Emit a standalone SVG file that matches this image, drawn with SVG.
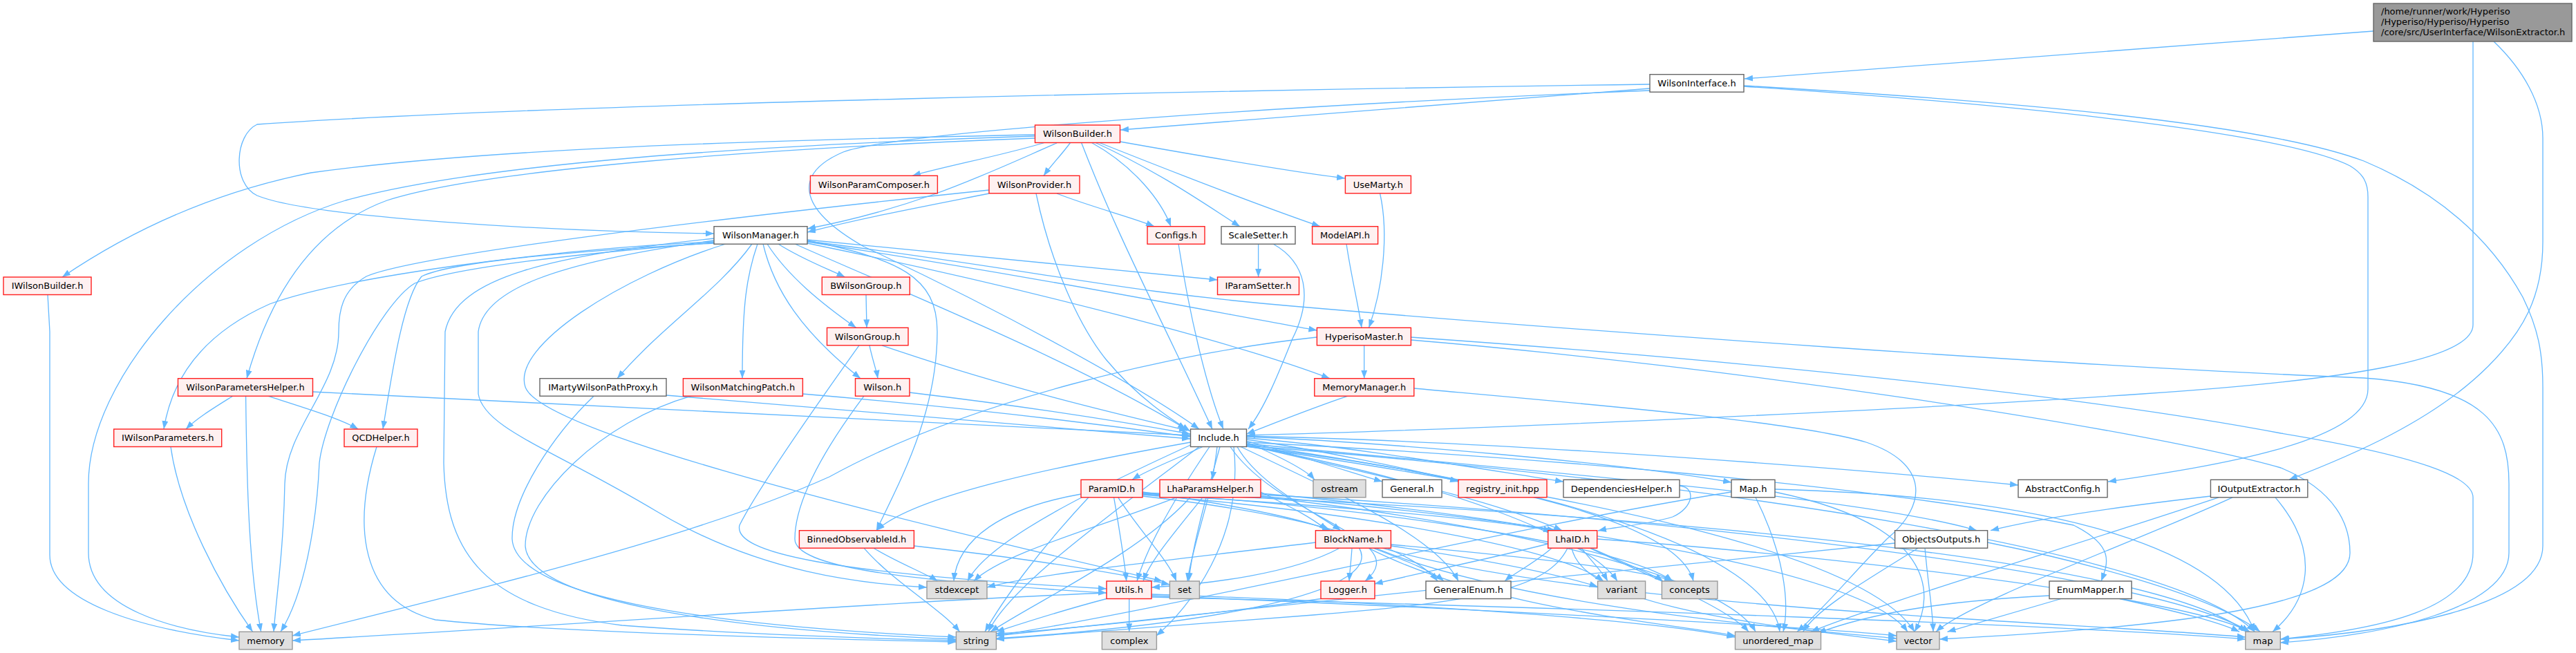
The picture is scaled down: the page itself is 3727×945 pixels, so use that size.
<svg xmlns="http://www.w3.org/2000/svg" width="3727" height="945" viewBox="0 0 3727 945">
<style>
.e{fill:none;stroke:#63b8ff;stroke-width:1.3;marker-end:url(#ah)}
.r{fill:#fff0f0;stroke:#ff2020;stroke-width:1.4}
.w{fill:#ffffff;stroke:#666666;stroke-width:1.4}
.s{fill:#e0e0e0;stroke:#999999;stroke-width:1.4}
.m{fill:#999999;stroke:#666666;stroke-width:1.4}
text{font-family:"DejaVu Sans","Liberation Sans",sans-serif;font-size:13px;fill:#000}
.c{text-anchor:middle}
</style>
<defs>
<marker id="ah" markerWidth="12" markerHeight="9" refX="12" refY="4.5" orient="auto" markerUnits="userSpaceOnUse">
<path d="M0,0 L12,4.5 L0,9 z" fill="#63b8ff"/>
</marker>
</defs>
<rect width="3727" height="945" fill="#ffffff"/>
<g id="edges">
<path class="e" d="M3434,45 C3100,70 2800,95 2524,114"/>
<path class="e" d="M3578,60 L3578,470 C3578,520 3400,550 3100,570 C2700,597 2100,622 1804,630"/>
<path class="e" d="M3608,60 C3650,100 3679,150 3679,200 L3679,350 C3679,430 3650,480 3600,530 C3520,610 3400,660 3312,694"/>
<path class="e" d="M2387,128 C2100,150 1800,175 1621,188"/>
<path class="e" d="M2387,122 C1800,130 800,150 372,180 C340,195 335,265 372,283 C450,315 800,335 1033,338"/>
<path class="e" d="M2387,131 C1900,150 1300,190 1220,220 C1150,250 1150,300 1250,357 C1450,450 1650,560 1735,621"/>
<path class="e" d="M2523,125 C2900,150 3300,190 3400,240 C3420,252 3426,265 3426,285 L3426,563 C3426,640 3200,675 3050,697"/>
<path class="e" d="M2523,124 C2800,140 3250,170 3420,233 C3520,275 3600,340 3650,430 C3672,475 3679,510 3679,560 L3679,790 C3679,880 3450,915 3300,925"/>
<path class="e" d="M1497,195 C1100,203 700,215 450,250 C300,280 180,340 90,401"/>
<path class="e" d="M1511,206.5 C1450,225 1370,240 1320,254.3"/>
<path class="e" d="M1548.6,206.5 C1535,225 1520,240 1510,254.3"/>
<path class="e" d="M1529,207 C1430,250 1330,300 1168,331"/>
<path class="e" d="M1579.5,206.5 C1640,240 1680,290 1694,327.7"/>
<path class="e" d="M1585,206.5 C1680,250 1750,300 1794,327.7"/>
<path class="e" d="M1590.7,206.5 C1700,250 1830,300 1910,327.7"/>
<path class="e" d="M1620.5,205 C1750,228 1880,250 1946,258"/>
<path class="e" d="M1497,200 C1100,215 700,245 560,290 C450,330 390,430 357,547.7"/>
<path class="e" d="M1564.6,206.5 C1620,350 1680,460 1754,621"/>
<path class="e" d="M1497,197 C1100,210 700,235 500,290 C300,350 128,550 128,700 L128,800 C128,880 250,912 346,922"/>
<path class="e" d="M1431,280 C1330,300 1250,315 1168,336"/>
<path class="e" d="M1529,280 C1580,300 1640,315 1670,327.7"/>
<path class="e" d="M1499,280 C1520,380 1560,470 1600,520 C1650,580 1700,610 1722,624"/>
<path class="e" d="M1431,275 C1000,320 600,370 530,400 C495,420 490,450 490,480 C490,560 414,620 412,700 C410,800 400,860 396,914.3"/>
<path class="e" d="M1996.6,280 C2010,340 2000,420 1980.5,474.3"/>
<path class="e" d="M1948,353 C1955,400 1965,440 1970,474.3"/>
<path class="e" d="M1820.6,353 L1820.6,401"/>
<path class="e" d="M1842,353 C1890,380 1900,430 1870,490 C1850,540 1830,590 1806,621"/>
<path class="e" d="M1705,353 C1720,450 1745,560 1770,621"/>
<path class="e" d="M1126,353 C1160,375 1200,390 1222.6,401"/>
<path class="e" d="M1110,353 C1140,400 1190,440 1238.7,474.3"/>
<path class="e" d="M1096,353 C1080,400 1074,440 1074,547.7"/>
<path class="e" d="M1104,353 C1120,420 1160,480 1245,547.7"/>
<path class="e" d="M1088,353 C1040,420 960,470 893,547.7"/>
<path class="e" d="M1050,353 C900,400 740,500 760,560 C780,620 1200,730 1682,841"/>
<path class="e" d="M1033,345 C800,370 660,400 644,480 L642,670 C645,800 700,880 900,905 C1100,920 1300,925 1383.4,927"/>
<path class="e" d="M1033,348 C800,380 700,420 692,480 L692,570 C700,620 800,650 950,740 C1100,830 1250,845 1341,850"/>
<path class="e" d="M1033,350 C800,360 500,400 390,440 C300,480 250,540 237,621"/>
<path class="e" d="M1033,351 C800,370 650,390 600,410 C550,440 470,600 462,670 C458,760 440,860 406,914.3"/>
<path class="e" d="M1033,352 C800,365 650,380 610,400 C585,430 570,520 554,621"/>
<path class="e" d="M1168,347 C1400,370 1600,390 1761.5,405"/>
<path class="e" d="M1168,349 C1500,390 1600,420 1870,443 C2300,480 3000,530 3420,547 C3600,560 3630,620 3630,700 L3630,800 C3630,880 3450,920 3299,930"/>
<path class="e" d="M1168,350 C1500,400 1800,460 1905.4,478"/>
<path class="e" d="M1168,352 C1500,420 1800,500 1924,547.7"/>
<path class="e" d="M1150,353 C1300,420 1550,520 1716,621"/>
<path class="e" d="M1168,348 C1300,375 1356,400 1356,480 C1356,600 1300,700 1268,767.7"/>
<path class="e" d="M1253,426.5 L1254,474.3"/>
<path class="e" d="M1258,499.8 C1262,520 1268,535 1270,547.7"/>
<path class="e" d="M1276,499.8 C1450,560 1620,600 1718,623"/>
<path class="e" d="M1243,499.8 C1200,560 1100,700 1070,760 C1060,800 1200,830 1601,852"/>
<path class="e" d="M1316,568 C1500,590 1650,615 1722,628"/>
<path class="e" d="M1250,573.2 C1200,640 1150,720 1150,780 C1150,820 1300,840 1601,858"/>
<path class="e" d="M964,572 C1300,600 1600,625 1722,635"/>
<path class="e" d="M859,573.2 C800,630 740,720 741,780 C745,860 1000,905 1383.4,922"/>
<path class="e" d="M1161,570 C1400,590 1600,615 1722,632"/>
<path class="e" d="M1000,573.2 C870,610 760,720 760,790 C765,870 1050,912 1383.4,925"/>
<path class="e" d="M336.7,573.2 C310,590 285,605 269,621"/>
<path class="e" d="M355.6,573.2 C357,700 360,820 377.7,914.3"/>
<path class="e" d="M387.7,573.2 C440,590 490,605 518.3,621"/>
<path class="e" d="M452.5,567 C900,590 1400,612 1722,630"/>
<path class="e" d="M247,646.5 C260,740 320,850 365.6,914.3"/>
<path class="e" d="M545,646.5 C510,760 520,870 630,897 C800,915 1200,925 1383.4,929"/>
<path class="e" d="M69,426.5 L72,480 L72,803 C72,870 200,910 346,927"/>
<path class="e" d="M1973.7,499.8 L1973.7,547.7"/>
<path class="e" d="M1905,488 C1700,510 1400,580 1200,690 C1000,780 700,850 423,920"/>
<path class="e" d="M2041.4,488 C2500,520 3000,570 3300,627 C3500,660 3578,690 3578,720 L3578,800 C3578,880 3450,910 3299,925"/>
<path class="e" d="M2041.4,492 C2500,530 3100,620 3300,677 C3380,710 3400,760 3400,800 C3400,870 3200,905 2806,925"/>
<path class="e" d="M1950,573.2 C1900,590 1850,610 1803.5,628"/>
<path class="e" d="M2045.8,562 C2300,585 2600,610 2700,640 C2790,670 2790,730 2730,780 C2680,830 2640,880 2600,914.3"/>
<path class="e" d="M1740,646.5 C1700,665 1660,680 1638,694.3"/>
<path class="e" d="M1761,646.5 C1759,665 1756,680 1754,694.3"/>
<path class="e" d="M1803.5,640 C1850,660 1890,680 1902,694.3"/>
<path class="e" d="M1803.5,638 C1880,660 1960,685 2000,697"/>
<path class="e" d="M1803.5,636 C1900,650 2050,680 2110,697"/>
<path class="e" d="M1803.5,634 C1950,645 2150,680 2262,697"/>
<path class="e" d="M1803.5,632 C2000,640 2350,670 2505,698"/>
<path class="e" d="M1803.5,631 C2200,640 2700,680 2920,702"/>
<path class="e" d="M1722.5,640 C1500,680 1320,720 1268,767.7"/>
<path class="e" d="M1790,646.5 C1820,700 1900,740 1940,767.7"/>
<path class="e" d="M1803.5,644 C2000,690 2150,720 2260,767.7"/>
<path class="e" d="M1803.5,642 C2200,680 2700,720 2860,767.7"/>
<path class="e" d="M1803.5,640 C2200,660 2700,700 3000,760 C3060,790 3050,815 3040,841"/>
<path class="e" d="M1780,646.5 C1850,750 2050,780 1975,841"/>
<path class="e" d="M1795,646.5 C1950,720 2080,780 2110,841"/>
<path class="e" d="M1722.5,644 C1600,700 1430,780 1400,841"/>
<path class="e" d="M1750,646.5 C1700,720 1660,790 1645,841"/>
<path class="e" d="M1765,646.5 C1745,720 1725,790 1720,841"/>
<path class="e" d="M1735,646.5 C1600,750 1460,850 1430,914.3"/>
<path class="e" d="M1785,646.5 C1800,780 1720,880 1673,920"/>
<path class="e" d="M1803.5,645 C2100,700 2300,780 2340,841"/>
<path class="e" d="M1803.5,643 C2200,700 2430,760 2450,841"/>
<path class="e" d="M1803.5,646 C2300,720 2700,800 2770,914.3"/>
<path class="e" d="M1803.5,646 C2250,700 2560,800 2575,914.3"/>
<path class="e" d="M1803.5,645 C2500,700 3150,800 3262,914.3"/>
<path class="e" d="M1564,715 C1450,735 1385,780 1380,841"/>
<path class="e" d="M1611.6,719.8 C1620,770 1627,810 1629.7,841"/>
<path class="e" d="M1617.7,719.8 C1650,770 1690,810 1702,841"/>
<path class="e" d="M1653,712 C1780,730 1880,750 1925,767.7"/>
<path class="e" d="M1653,715 C1900,730 2150,750 2245,768"/>
<path class="e" d="M1653,718 C1850,740 2030,780 2080,841"/>
<path class="e" d="M1653,716 C1950,740 2250,790 2320,841"/>
<path class="e" d="M1653,714 C2000,735 2350,790 2420,841"/>
<path class="e" d="M1653,713 C2300,740 3100,800 3250,914.3"/>
<path class="e" d="M1575,719.8 C1500,800 1450,870 1425,914.3"/>
<path class="e" d="M1824,712 C1870,735 1900,750 1920,767.7"/>
<path class="e" d="M1824,714 C2000,730 2150,750 2250,767.7"/>
<path class="e" d="M1740,719.8 C1700,770 1665,810 1654,841"/>
<path class="e" d="M1748,719.8 C1735,770 1722,810 1718,841"/>
<path class="e" d="M1702,719.8 C1600,760 1450,800 1409,841"/>
<path class="e" d="M1722,719.8 C1650,800 1500,870 1433,914.3"/>
<path class="e" d="M1824,716 C2300,740 3100,820 3255,914.3"/>
<path class="e" d="M1824,718 C2300,760 2700,830 2760,914.3"/>
<path class="e" d="M1824,719 C2200,760 2500,840 2540,914.3"/>
<path class="e" d="M1264,793.2 C1300,815 1340,830 1356.5,841"/>
<path class="e" d="M1250,793.2 C1290,840 1360,880 1388.6,914.3"/>
<path class="e" d="M1322.4,790 C1500,810 1620,830 1692.4,846"/>
<path class="e" d="M1956,793.2 C1955,810 1953,825 1952,841"/>
<path class="e" d="M1986.6,793.2 C2030,810 2070,825 2089,841"/>
<path class="e" d="M1966.5,793.2 C2000,850 1800,900 1441,924"/>
<path class="e" d="M1938,793.2 C1870,830 1750,845 1666,850"/>
<path class="e" d="M2012.4,790 C2150,810 2250,830 2311.6,849"/>
<path class="e" d="M2012.4,788 C2200,805 2380,825 2420,841"/>
<path class="e" d="M2000,793.2 C2300,880 3000,900 3248.8,922"/>
<path class="e" d="M1990,793.2 C2200,880 2600,910 2744,924"/>
<path class="e" d="M1980,793.2 C2150,880 2400,900 2510.5,920"/>
<path class="e" d="M1903.4,785 C1700,810 1500,830 1428,850"/>
<path class="e" d="M2245,793.2 C2220,815 2190,830 2177,841"/>
<path class="e" d="M2239.7,787 C2150,810 2050,830 1988.6,845"/>
<path class="e" d="M2288,793.2 C2305,815 2320,830 2326,841"/>
<path class="e" d="M2302,793.2 C2350,815 2390,830 2406,841"/>
<path class="e" d="M2268,793.2 C2240,850 2150,870 1900,890 C1700,905 1500,920 1441,925"/>
<path class="e" d="M2274,793.2 C2290,870 2500,900 2744,928"/>
<path class="e" d="M2310.7,780 C2600,800 3150,860 3255,914.3"/>
<path class="e" d="M2300,793.2 C2400,840 2500,880 2530,914.3"/>
<path class="e" d="M2429.7,703 C2455,705 2450,735 2420,748 C2380,760 2340,762 2312,768"/>
<path class="e" d="M2775,793.2 C2700,840 2630,880 2608.6,914.3"/>
<path class="e" d="M2785,793.2 C2790,850 2796,880 2797,914.3"/>
<path class="e" d="M2741.6,786 C2400,820 1800,880 1441,920"/>
<path class="e" d="M2875.6,785 C3000,810 3200,860 3270,914.3"/>
<path class="e" d="M2982,866.5 C2900,890 2850,905 2817.5,914.3"/>
<path class="e" d="M3066.6,866.5 C3150,885 3210,900 3240,914.3"/>
<path class="e" d="M2965,862 C2800,870 2700,890 2630,916"/>
<path class="e" d="M2568,708 C3000,720 3220,800 3262,914.3"/>
<path class="e" d="M2568,712 C2800,760 2800,860 2770,914.3"/>
<path class="e" d="M2540,719.8 C2580,800 2590,870 2580,914.3"/>
<path class="e" d="M2505,712 C2200,760 1700,880 1441,920"/>
<path class="e" d="M3292,719.8 C3360,800 3340,870 3288,914.3"/>
<path class="e" d="M3230,719.8 C3100,780 2850,870 2801,914.3"/>
<path class="e" d="M3198.4,718 C3050,735 2950,750 2880,767.7"/>
<path class="e" d="M3210,719.8 C3000,790 2700,880 2620,914.3"/>
<path class="e" d="M1633.7,866.5 L1633.7,914.3"/>
<path class="e" d="M1601,866.5 C1530,885 1470,905 1441,914.3"/>
<path class="e" d="M1601,858 C1300,870 900,900 423,927"/>
<path class="e" d="M1666,862 C2100,880 2600,905 2744,920"/>
<path class="e" d="M1666,864 C2300,880 3000,905 3248.8,925"/>
<path class="e" d="M1666,860 C2100,875 2400,900 2510.5,922"/>
<path class="e" d="M1911,866.5 C1750,890 1550,910 1441,917"/>
</g>
<g id="n_main"><rect class="m" x="3434" y="5" width="287" height="55"/><text x="3445" y="21">/home/runner/work/Hyperiso</text><text x="3445" y="36">/Hyperiso/Hyperiso/Hyperiso</text><text x="3445" y="51">/core/src/UserInterface/WilsonExtractor.h</text></g>
<g id="n_WilsonInterface"><rect class="w" x="2387" y="107.7" width="136" height="25.5"/><text class="c" x="2455" y="125">WilsonInterface.h</text></g>
<g id="n_WilsonBuilder"><rect class="r" x="1497.5" y="181" width="123" height="25.5"/><text class="c" x="1559" y="198.3">WilsonBuilder.h</text></g>
<g id="n_WilsonParamComposer"><rect class="r" x="1172.4" y="254.3" width="184" height="25.5"/><text class="c" x="1264.4" y="271.6">WilsonParamComposer.h</text></g>
<g id="n_WilsonProvider"><rect class="r" x="1431" y="254.3" width="131" height="25.5"/><text class="c" x="1496.5" y="271.6">WilsonProvider.h</text></g>
<g id="n_UseMarty"><rect class="r" x="1946.4" y="254.3" width="95" height="25.5"/><text class="c" x="1993.9" y="271.6">UseMarty.h</text></g>
<g id="n_WilsonManager"><rect class="w" x="1033" y="327.7" width="135" height="25.5"/><text class="c" x="1100.5" y="345">WilsonManager.h</text></g>
<g id="n_Configs"><rect class="r" x="1660" y="327.7" width="83" height="25.5"/><text class="c" x="1701.5" y="345">Configs.h</text></g>
<g id="n_ScaleSetter"><rect class="w" x="1767" y="327.7" width="107" height="25.5"/><text class="c" x="1820.5" y="345">ScaleSetter.h</text></g>
<g id="n_ModelAPI"><rect class="r" x="1898.6" y="327.7" width="95" height="25.5"/><text class="c" x="1946.1" y="345">ModelAPI.h</text></g>
<g id="n_IWilsonBuilder"><rect class="r" x="5" y="401" width="127" height="25.5"/><text class="c" x="68.5" y="418.3">IWilsonBuilder.h</text></g>
<g id="n_BWilsonGroup"><rect class="r" x="1189.3" y="401" width="127" height="25.5"/><text class="c" x="1252.8" y="418.3">BWilsonGroup.h</text></g>
<g id="n_IParamSetter"><rect class="r" x="1761.5" y="401" width="118" height="25.5"/><text class="c" x="1820.5" y="418.3">IParamSetter.h</text></g>
<g id="n_WilsonGroup"><rect class="r" x="1196.5" y="474.3" width="117.5" height="25.5"/><text class="c" x="1255.2" y="491.6">WilsonGroup.h</text></g>
<g id="n_HyperisoMaster"><rect class="r" x="1905.4" y="474.3" width="136" height="25.5"/><text class="c" x="1973.4" y="491.6">HyperisoMaster.h</text></g>
<g id="n_WilsonParametersHelper"><rect class="r" x="257.5" y="547.7" width="195" height="25.5"/><text class="c" x="355" y="565">WilsonParametersHelper.h</text></g>
<g id="n_IMartyWilsonPathProxy"><rect class="w" x="781" y="547.7" width="183" height="25.5"/><text class="c" x="872.5" y="565">IMartyWilsonPathProxy.h</text></g>
<g id="n_WilsonMatchingPatch"><rect class="r" x="988.4" y="547.7" width="173" height="25.5"/><text class="c" x="1074.9" y="565">WilsonMatchingPatch.h</text></g>
<g id="n_Wilson"><rect class="r" x="1237.5" y="547.7" width="78.5" height="25.5"/><text class="c" x="1276.7" y="565">Wilson.h</text></g>
<g id="n_MemoryManager"><rect class="r" x="1901.8" y="547.7" width="144" height="25.5"/><text class="c" x="1973.8" y="565">MemoryManager.h</text></g>
<g id="n_IWilsonParameters"><rect class="r" x="164.7" y="621" width="156" height="25.5"/><text class="c" x="242.7" y="638.3">IWilsonParameters.h</text></g>
<g id="n_QCDHelper"><rect class="r" x="498" y="621" width="106" height="25.5"/><text class="c" x="551" y="638.3">QCDHelper.h</text></g>
<g id="n_Include"><rect class="w" x="1722.5" y="621" width="81" height="25.5"/><text class="c" x="1763" y="638.3">Include.h</text></g>
<g id="n_ParamID"><rect class="r" x="1564" y="694.3" width="89" height="25.5"/><text class="c" x="1608.5" y="711.6">ParamID.h</text></g>
<g id="n_LhaParamsHelper"><rect class="r" x="1678" y="694.3" width="146" height="25.5"/><text class="c" x="1751" y="711.6">LhaParamsHelper.h</text></g>
<g id="n_ostream"><rect class="s" x="1900" y="694.3" width="76" height="25.5"/><text class="c" x="1938" y="711.6">ostream</text></g>
<g id="n_General"><rect class="w" x="2000" y="694.3" width="86" height="25.5"/><text class="c" x="2043" y="711.6">General.h</text></g>
<g id="n_registry_init"><rect class="r" x="2110" y="694.3" width="128" height="25.5"/><text class="c" x="2174" y="711.6">registry_init.hpp</text></g>
<g id="n_DependenciesHelper"><rect class="w" x="2262" y="694.3" width="168" height="25.5"/><text class="c" x="2346" y="711.6">DependenciesHelper.h</text></g>
<g id="n_Map"><rect class="w" x="2505" y="694.3" width="63" height="25.5"/><text class="c" x="2536.5" y="711.6">Map.h</text></g>
<g id="n_AbstractConfig"><rect class="w" x="2920" y="694.3" width="129" height="25.5"/><text class="c" x="2984.5" y="711.6">AbstractConfig.h</text></g>
<g id="n_IOutputExtractor"><rect class="w" x="3198.4" y="694.3" width="140.4" height="25.5"/><text class="c" x="3268.6" y="711.6">IOutputExtractor.h</text></g>
<g id="n_BinnedObservableId"><rect class="r" x="1156.4" y="767.7" width="166" height="25.5"/><text class="c" x="1239.4" y="785">BinnedObservableId.h</text></g>
<g id="n_BlockName"><rect class="r" x="1903.4" y="767.7" width="109" height="25.5"/><text class="c" x="1957.9" y="785">BlockName.h</text></g>
<g id="n_LhaID"><rect class="r" x="2239.7" y="767.7" width="71" height="25.5"/><text class="c" x="2275.2" y="785">LhaID.h</text></g>
<g id="n_ObjectsOutputs"><rect class="w" x="2741.6" y="767.7" width="134" height="25.5"/><text class="c" x="2808.6" y="785">ObjectsOutputs.h</text></g>
<g id="n_stdexcept"><rect class="s" x="1341" y="841" width="87" height="25.5"/><text class="c" x="1384.5" y="858.3">stdexcept</text></g>
<g id="n_Utils"><rect class="r" x="1601" y="841" width="65" height="25.5"/><text class="c" x="1633.5" y="858.3">Utils.h</text></g>
<g id="n_set"><rect class="s" x="1692.4" y="841" width="43" height="25.5"/><text class="c" x="1713.9" y="858.3">set</text></g>
<g id="n_Logger"><rect class="r" x="1911" y="841" width="78" height="25.5"/><text class="c" x="1950" y="858.3">Logger.h</text></g>
<g id="n_GeneralEnum"><rect class="w" x="2063" y="841" width="123" height="25.5"/><text class="c" x="2124.5" y="858.3">GeneralEnum.h</text></g>
<g id="n_variant"><rect class="s" x="2311.6" y="841" width="69" height="25.5"/><text class="c" x="2346.1" y="858.3">variant</text></g>
<g id="n_concepts"><rect class="s" x="2404.4" y="841" width="80.5" height="25.5"/><text class="c" x="2444.6" y="858.3">concepts</text></g>
<g id="n_EnumMapper"><rect class="w" x="2965" y="841" width="119" height="25.5"/><text class="c" x="3024.5" y="858.3">EnumMapper.h</text></g>
<g id="n_memory"><rect class="s" x="346" y="914.3" width="77" height="25.5"/><text class="c" x="384.5" y="931.6">memory</text></g>
<g id="n_string"><rect class="s" x="1383.4" y="914.3" width="58" height="25.5"/><text class="c" x="1412.4" y="931.6">string</text></g>
<g id="n_complex"><rect class="s" x="1594.4" y="914.3" width="79" height="25.5"/><text class="c" x="1633.9" y="931.6">complex</text></g>
<g id="n_unordered_map"><rect class="s" x="2510.5" y="914.3" width="124" height="25.5"/><text class="c" x="2572.5" y="931.6">unordered_map</text></g>
<g id="n_vector"><rect class="s" x="2744" y="914.3" width="62" height="25.5"/><text class="c" x="2775" y="931.6">vector</text></g>
<g id="n_map"><rect class="s" x="3248.8" y="914.3" width="50.5" height="25.5"/><text class="c" x="3274" y="931.6">map</text></g>
</svg>
